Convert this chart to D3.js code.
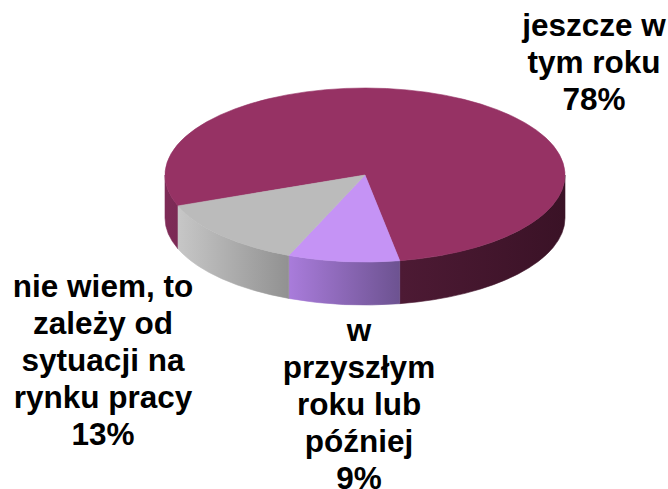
<!DOCTYPE html>
<html>
<head>
<meta charset="utf-8">
<script src="https://cdn.jsdelivr.net/npm/d3@7"></script>
<style>
  body { margin: 0; background: #fff; }
  svg { display: block; }
</style>
</head>
<body>
<svg class="chart" width="668" height="489"></svg>
<script>
// answers and their share (in %)
var categories = [
    ["jeszcze w", "tym roku"],
    ["w", "przyszłym", "roku lub", "później"],
    ["nie wiem, to", "zależy od", "sytuacji na", "rynku pracy"]
];
var values = [78, 9, 13];

var topColors = ["#963264", "#c593f5", "#bbbbbb"];
// side shading: [offset, colour] stops across the pie width
var sideStops = [
    [[0, "#7e2b57"], [0.59, "#4d1a34"], [1, "#3a1226"]],
    [[0, "#a97cdb"], [0.31, "#a97cdb"], [0.59, "#6c5290"], [1, "#6c5290"]],
    [[0, "#cdcdcd"], [0.31, "#919191"], [1, "#919191"]]
];

var cx = 365, cy = 175, rx = 200, ry = 87, depth = 43;
var startDeg = 159.2; // where the first slice begins (clockwise from 3 o'clock)

var svg = d3.select(".chart");
var defs = svg.append("defs");

// pie angles are used as parametric ellipse angles, clockwise from +x
var pie = d3.pie()
    .sort(null)
    .startAngle(startDeg * Math.PI / 180)
    .endAngle(startDeg * Math.PI / 180 + 2 * Math.PI);
var arcs = pie(values);

function px(t) { return cx + rx * Math.cos(t); }
function py(t) { return cy + ry * Math.sin(t); }

function topPath(a0, a1) {
    var large = (a1 - a0) > Math.PI ? 1 : 0;
    return "M" + cx + "," + cy +
        "L" + px(a0) + "," + py(a0) +
        "A" + rx + "," + ry + " 0 " + large + " 1 " + px(a1) + "," + py(a1) + "Z";
}

function sidePath(a0, a1) {
    return "M" + px(a0) + "," + py(a0) +
        "A" + rx + "," + ry + " 0 0 1 " + px(a1) + "," + py(a1) +
        "L" + px(a1) + "," + (py(a1) + depth) +
        "A" + rx + "," + ry + " 0 0 0 " + px(a0) + "," + (py(a0) + depth) + "Z";
}

// parts of a slice that sit on the front half (0..PI, or 2PI..3PI)
function frontParts(a0, a1) {
    var parts = [];
    [0, 2 * Math.PI].forEach(function(off) {
        var s = Math.max(a0, off), e = Math.min(a1, off + Math.PI);
        if (e > s) parts.push([s, e]);
    });
    return parts;
}

// gradients for the sides
sideStops.forEach(function(stops, i) {
    var g = defs.append("linearGradient")
        .attr("id", "side" + i)
        .attr("gradientUnits", "userSpaceOnUse")
        .attr("x1", cx - rx).attr("x2", cx + rx)
        .attr("y1", 0).attr("y2", 0);
    stops.forEach(function(s) {
        g.append("stop").attr("offset", s[0]).attr("stop-color", s[1]);
    });
});

// sides first
arcs.forEach(function(d, i) {
    frontParts(d.startAngle, d.endAngle).forEach(function(p) {
        svg.append("path")
            .attr("d", sidePath(p[0], p[1]))
            .attr("fill", "url(#side" + i + ")")
            .attr("stroke", "url(#side" + i + ")")
            .attr("stroke-width", 0.6);
    });
});

// then the top faces
svg.selectAll(".slice")
    .data(arcs)
    .enter().append("path")
    .attr("class", "slice")
    .attr("d", function(d) { return topPath(d.startAngle, d.endAngle); })
    .attr("fill", function(d, i) { return topColors[i]; })
    .attr("stroke", function(d, i) { return topColors[i]; })
    .attr("stroke-width", 0.6);

// labels
var labelPos = [[594, 36], [359, 341], [103, 297]];
var lineGap = 37;

categories.forEach(function(lines, i) {
    var t = svg.append("text")
        .attr("text-anchor", "middle")
        .attr("font-family", "Liberation Sans, Arial, sans-serif")
        .attr("font-weight", "bold")
        .attr("font-size", "31.5px")
        .attr("fill", "#000");
    lines.concat([values[i] + "%"]).forEach(function(s, j) {
        t.append("tspan")
            .attr("x", labelPos[i][0])
            .attr("y", labelPos[i][1] + j * lineGap)
            .text(s);
    });
});
</script>
</body>
</html>
